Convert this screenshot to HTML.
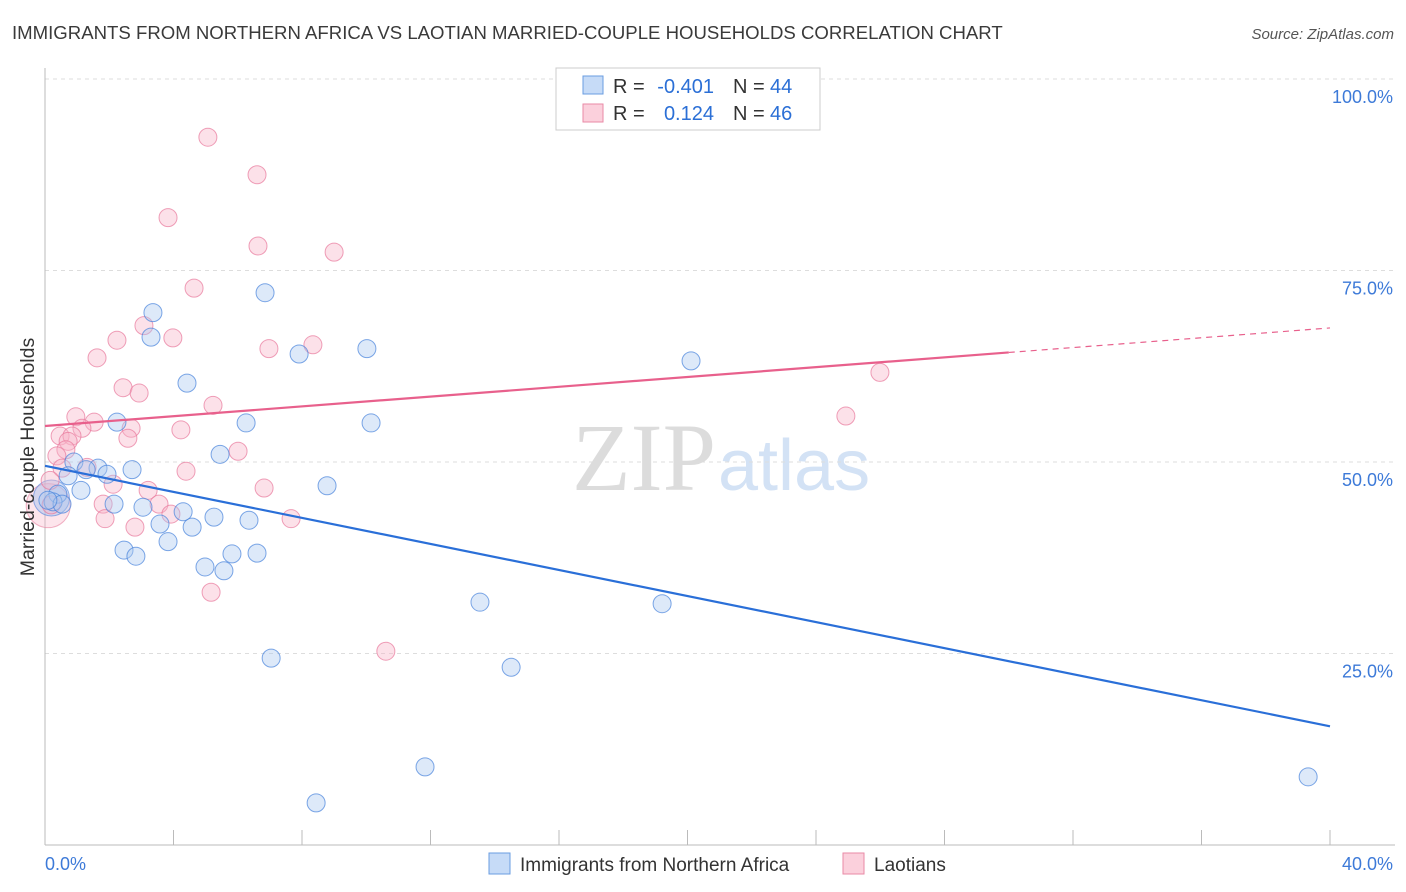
<!DOCTYPE html>
<html><head><meta charset="utf-8"><style>
body{margin:0;background:#fff;font-family:"Liberation Sans",sans-serif;}
svg{display:block}
</style></head><body>
<svg id="c" width="1406" height="892" xmlns="http://www.w3.org/2000/svg">
<text x="12" y="39" font-size="18.6" fill="#3a3a3a">IMMIGRANTS FROM NORTHERN AFRICA VS LAOTIAN MARRIED-COUPLE HOUSEHOLDS CORRELATION CHART</text>
<text x="1394" y="39" font-size="15" fill="#555" font-style="italic" text-anchor="end">Source: ZipAtlas.com</text>
<text x="716" y="490" font-size="96" fill="#dcdcdc" text-anchor="end" font-family="Liberation Serif,serif">ZIP</text>
<text x="718" y="490" font-size="72" fill="#d3e2f5">atlas</text>
<g id="grid"></g><g id="axes"></g><g id="pts"></g><g id="lines"></g>
<text transform="translate(34,457) rotate(-90)" font-size="19.5" fill="#333" text-anchor="middle">Married-couple Households</text>
<g>
<rect x="556" y="68" width="264" height="62" fill="#fff" stroke="#ccc"/>
<rect x="583" y="76" width="20" height="18" fill="#c6dbf7" stroke="#6a9de0"/>
<text x="613" y="93" font-size="20" fill="#333">R =</text>
<text x="714" y="93" font-size="20" fill="#2b6fd6" text-anchor="end">-0.401</text>
<text x="733" y="93" font-size="20" fill="#333">N =</text>
<text x="770" y="93" font-size="20" fill="#2b6fd6">44</text>
<rect x="583" y="104" width="20" height="18" fill="#fbd0dc" stroke="#e88aa6"/>
<text x="613" y="120" font-size="20" fill="#333">R =</text>
<text x="714" y="120" font-size="20" fill="#2b6fd6" text-anchor="end">0.124</text>
<text x="733" y="120" font-size="20" fill="#333">N =</text>
<text x="770" y="120" font-size="20" fill="#2b6fd6">46</text>
</g>
<g>
<rect x="489" y="853" width="21" height="21" fill="#c6dbf7" stroke="#6a9de0"/>
<text x="520" y="871" font-size="19" fill="#333">Immigrants from Northern Africa</text>
<rect x="843" y="853" width="21" height="21" fill="#fbd0dc" stroke="#e88aa6"/>
<text x="874" y="871" font-size="19" fill="#333">Laotians</text>
</g>
</svg>
<script>
const blueX=[3.36,3.30,6.85,7.91,10.02,4.42,2.24,6.26,10.15,20.11,5.45,2.71,1.65,0.90,1.93,0.72,1.28,1.12,0.40,0.25,0.53,2.15,3.05,4.30,5.26,3.58,4.58,6.35,8.78,3.83,2.46,2.83,5.82,6.60,4.98,5.57,13.54,19.21,7.04,14.51,11.83,8.44,39.32,0.09];
const blueY=[69.5,66.3,72.1,64.1,64.8,60.3,55.2,55.1,55.1,63.2,51.0,49.0,49.2,50.0,48.4,48.2,49.0,46.3,45.8,44.8,44.5,44.5,44.1,43.5,42.8,41.9,41.5,42.4,46.9,39.6,38.5,37.7,38.0,38.1,36.3,35.8,31.7,31.5,24.4,23.2,10.2,5.5,8.9,45.0];
const pinkX=[5.07,6.60,3.83,6.63,9.00,4.64,3.08,2.24,3.98,6.97,8.34,1.62,2.43,2.93,5.23,4.23,0.96,1.53,2.68,1.15,0.47,0.84,2.58,0.72,0.65,0.37,6.01,4.39,1.31,2.12,3.21,6.82,1.81,3.55,3.92,1.87,2.80,7.66,5.17,10.61,24.93,25.99,0.53,0.16,0.19];
const pinkY=[92.4,87.5,81.9,78.2,77.4,72.7,67.8,65.9,66.2,64.8,65.3,63.6,59.7,59.0,57.4,54.2,55.9,55.2,54.4,54.4,53.4,53.4,53.1,52.7,51.6,50.8,51.4,48.8,49.3,47.1,46.3,46.6,44.5,44.5,43.2,42.6,41.5,42.6,33.0,25.3,56.0,61.7,49.2,47.6,44.4];
const blueTrend=[49.5,15.5];
const pinkTrend=[54.7,67.5];
const pinkSolidEnd=30;
const yTicks=[25,50,75,100];
const NS="http://www.w3.org/2000/svg";
const X=v=>45+v*32.125, Y=v=>845-v*7.66;
function mk(t,a,p){const e=document.createElementNS(NS,t);for(const k in a)e.setAttribute(k,a[k]);p.appendChild(e);return e;}
const grid=document.getElementById('grid'),axes=document.getElementById('axes'),pts=document.getElementById('pts'),lines=document.getElementById('lines');
yTicks.forEach(t=>{
const l=mk('line',{x1:45,x2:1395,y1:Y(t),y2:Y(t),stroke:'#ddd','stroke-dasharray':'4,4'},grid);


const tx=mk('text',{x:1393,y:Y(t)+24,'font-size':18,fill:'#3d7ad8','text-anchor':'end'},axes);tx.textContent=t.toFixed(1)+'%';


});
mk('line',{x1:45,x2:45,y1:68,y2:845,stroke:'#bbb'},axes);
mk('line',{x1:45,x2:1395,y1:845,y2:845,stroke:'#bbb'},axes);
for(let k=0;k<=10;k++){mk('line',{x1:X(k*4),x2:X(k*4),y1:830,y2:845,stroke:'#bbb'},axes);}
const x0=mk('text',{x:45,y:870,'font-size':18,fill:'#3d7ad8'},axes);x0.textContent='0.0%';


const x1=mk('text',{x:1393,y:870,'font-size':18,fill:'#3d7ad8','text-anchor':'end'},axes);x1.textContent='40.0%';


const bp=mk('circle',{cx:X(0.1),cy:Y(44.3),r:22,fill:'rgba(248,180,200,0.35)',stroke:'rgba(232,130,160,0.6)'},pts);


const bb=mk('circle',{cx:X(0.2),cy:Y(45.3),r:18,fill:'rgba(160,190,240,0.45)',stroke:'rgba(80,130,220,0.6)'},pts);


pinkX.forEach((v,i)=>{const c=mk('circle',{cx:X(v),cy:Y(pinkY[i]),r:9,fill:'rgba(248,180,200,0.4)',stroke:'rgba(232,120,155,0.7)'},pts);

});
blueX.forEach((v,i)=>{const c=mk('circle',{cx:X(v),cy:Y(blueY[i]),r:9,fill:'rgba(170,200,240,0.4)',stroke:'rgba(70,130,220,0.7)'},pts);

});
const bl=mk('line',{x1:X(0),y1:Y(blueTrend[0]),x2:X(40),y2:Y(blueTrend[1]),stroke:'#2a6fd8','stroke-width':2.2},lines);


const pm=pinkTrend[0]+(pinkTrend[1]-pinkTrend[0])*pinkSolidEnd/40;
const pl=mk('line',{x1:X(0),y1:Y(pinkTrend[0]),x2:X(pinkSolidEnd),y2:Y(pm),stroke:'#e8608c','stroke-width':2.2},lines);


const pd=mk('line',{x1:X(pinkSolidEnd),y1:Y(pm),x2:X(40),y2:Y(pinkTrend[1]),stroke:'#e8608c','stroke-width':1.2,'stroke-dasharray':'6,5'},lines);


</script>
</body></html>
